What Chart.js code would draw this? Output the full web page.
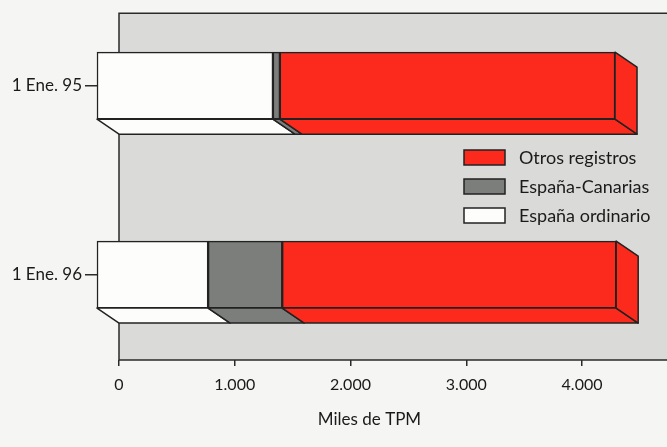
<!DOCTYPE html>
<html>
<head>
<meta charset="utf-8">
<script src="https://cdn.jsdelivr.net/npm/chart.js@4.4.1/dist/chart.umd.min.js"></script>
<style>
  html, body { margin: 0; padding: 0; background: #f5f5f3; }
  #wrap { width: 667px; height: 447px; position: relative; }
</style>
</head>
<body>
<div id="wrap"><canvas id="chart"></canvas></div>
<script>
// data (miles de TPM)
var categories = ['1 Ene. 95', '1 Ene. 96'];
var seriesNames = ['España ordinario', 'España-Canarias', 'Otros registros'];
var espanaOrdinario = [1520, 960];
var espanaCanarias = [60, 640];
var otrosRegistros = [2895, 2885];
var xTicks = [0, 1000, 2000, 3000, 4000];

var colors = ['#fdfdfc', '#7b7e7b', '#fb2a1c'];
var FONT = 'Lato';
var DX = 22, DY = 15;   // depth of the 3d boxes

function toPoints(values) {
    return values.map(function (v, i) { return { x: v, y: i }; });
}

function fmt(v) {
    return String(v).replace(/\B(?=(\d{3})+(?!\d))/g, '.');
}

// grey panel and frame behind the bars
var panel = {
    id: 'panel',
    beforeDraw: function (chart) {
        var ctx = chart.ctx, a = chart.chartArea, w = chart.width;
        ctx.save();
        ctx.fillStyle = '#dadbd8';
        ctx.fillRect(a.left, a.top, w - a.left, a.bottom - a.top);
        ctx.strokeStyle = '#2a2a2a';
        ctx.lineWidth = 1.5;
        ctx.beginPath();
        ctx.moveTo(w, a.top); ctx.lineTo(a.left, a.top); ctx.lineTo(a.left, a.bottom); ctx.lineTo(w, a.bottom);
        ctx.stroke();
        ctx.restore();
    }
};

// bottom and end faces of each stacked bar
var depth = {
    id: 'depth',
    afterDatasetsDraw: function (chart) {
        var ctx = chart.ctx;
        var n = chart.data.datasets.length;
        ctx.save();
        ctx.strokeStyle = '#222';
        ctx.lineWidth = 1.5;
        ctx.lineJoin = 'round';
        for (var d = 0; d < n; d++) {
            var meta = chart.getDatasetMeta(d);
            meta.data.forEach(function (bar) {
                var x1 = bar.base, x2 = bar.x;
                var top = bar.y - bar.height / 2, bot = bar.y + bar.height / 2;
                ctx.fillStyle = chart.data.datasets[d].backgroundColor;
                ctx.beginPath();
                ctx.moveTo(x1, bot); ctx.lineTo(x2, bot);
                ctx.lineTo(x2 + DX, bot + DY); ctx.lineTo(x1 + DX, bot + DY);
                ctx.closePath();
                ctx.fill(); ctx.stroke();
                if (d === n - 1) {
                    ctx.beginPath();
                    ctx.moveTo(x2, top); ctx.lineTo(x2 + DX, top + DY);
                    ctx.lineTo(x2 + DX, bot + DY); ctx.lineTo(x2, bot);
                    ctx.closePath();
                    ctx.fill(); ctx.stroke();
                }
            });
        }
        ctx.restore();
    }
};

// legend drawn inside the panel, top entry = last series
var legendBox = {
    id: 'legendBox',
    afterDraw: function (chart) {
        var ctx = chart.ctx;
        var ds = chart.data.datasets;
        ctx.save();
        ctx.font = '18px ' + FONT;
        ctx.textBaseline = 'middle';
        ctx.strokeStyle = '#222';
        ctx.lineWidth = 1.5;
        for (var k = 0; k < ds.length; k++) {
            var item = ds[ds.length - 1 - k];
            var y = 150 + k * 29;
            ctx.fillStyle = item.backgroundColor;
            ctx.fillRect(464, y, 41, 15);
            ctx.strokeRect(464, y, 41, 15);
            ctx.fillStyle = '#1a1a1a';
            ctx.fillText(item.label, 519, y + 8);
        }
        ctx.restore();
    }
};

var seriesValues = [espanaOrdinario, espanaCanarias, otrosRegistros];

var chartData = {
    type: 'bar',
    data: {
        datasets: seriesNames.map(function (name, i) {
            return {
                label: name,
                data: toPoints(seriesValues[i]),
                backgroundColor: colors[i],
                borderColor: '#222',
                borderWidth: 1.5,
                borderSkipped: false,
                barThickness: 67,
                xAxisID: 'xb',
                clip: false
            };
        })
    },
    options: {
        indexAxis: 'y',
        responsive: true,
        maintainAspectRatio: false,
        animation: false,
        layout: { padding: { top: 13, right: 47, bottom: 0, left: 0 } },
        plugins: { legend: { display: false }, tooltip: { enabled: false } },
        scales: {
            x: {
                type: 'linear',
                position: 'bottom',
                min: 0,
                max: 4328,
                afterBuildTicks: function (s) { s.ticks = xTicks.map(function (v) { return { value: v }; }); },
                ticks: {
                    callback: function (v) { return fmt(v); },
                    color: '#1a1a1a',
                    font: { family: FONT, size: 16 },
                    padding: 9,
                    maxRotation: 0
                },
                grid: { drawOnChartArea: false, tickLength: 6, color: '#2a2a2a', lineWidth: 1.5 },
                border: { display: false },
                title: {
                    display: true,
                    text: 'Miles de TPM',
                    color: '#1a1a1a',
                    font: { family: FONT, size: 17 },
                    padding: { top: 4, bottom: 17 }
                },
                afterFit: function (s) { s.height = 87; }
            },
            xb: {
                type: 'linear',
                display: false,
                stacked: true,
                min: 190,
                max: 4518
            },
            y: {
                type: 'linear',
                reverse: true,
                stacked: true,
                offset: false,
                min: -0.3836,
                max: 1.4524,
                afterBuildTicks: function (s) { s.ticks = categories.map(function (c, i) { return { value: i }; }); },
                ticks: {
                    callback: function (v) { return categories[v]; },
                    color: '#1a1a1a',
                    font: { family: FONT, size: 17 },
                    padding: 3
                },
                grid: { offset: false, drawOnChartArea: false, tickLength: 34, color: '#2a2a2a', lineWidth: 1.5 },
                border: { display: false },
                afterFit: function (s) { s.width = 119; }
            }
        }
    },
    plugins: [panel, depth, legendBox]
};

var ctx = document.getElementById('chart').getContext('2d');
var myChart = new Chart(ctx, chartData);
</script>
</body>
</html>
